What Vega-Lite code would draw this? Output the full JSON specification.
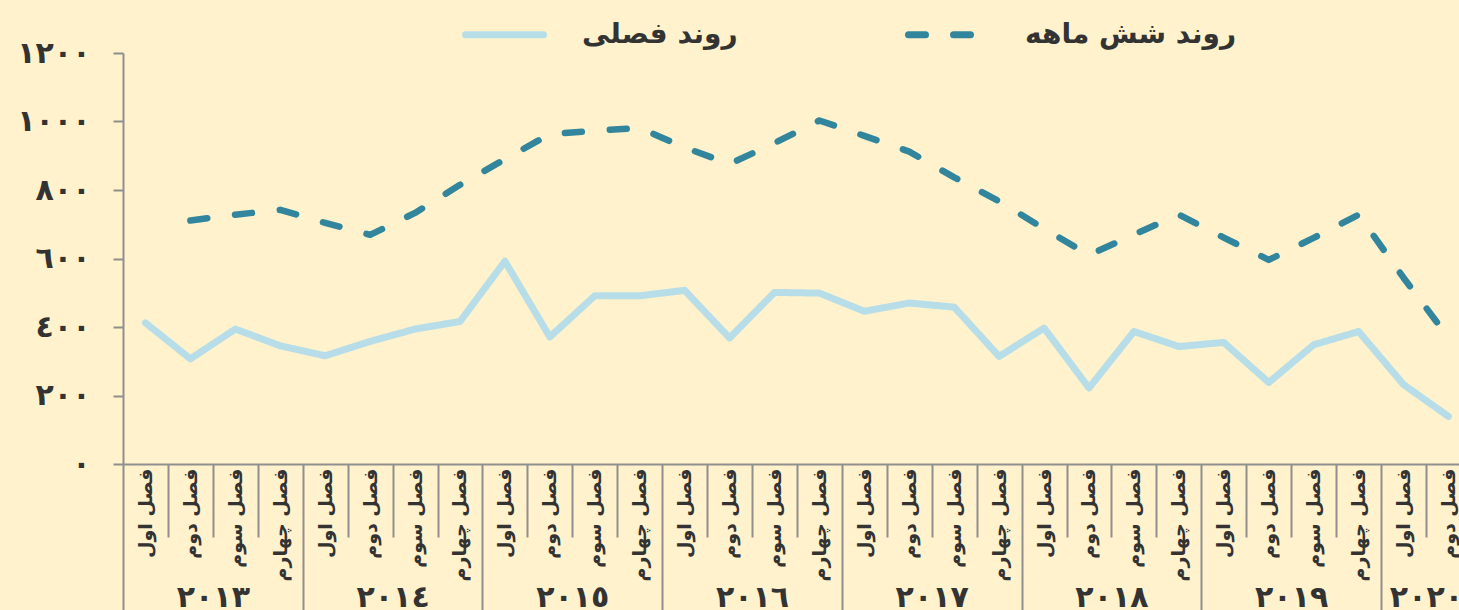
{
  "$schema": "https://vega.github.io/schema/vega-lite/v6.json",
  "width": 1336,
  "height": 411,
  "autosize": "none",
  "padding": {"left": 123, "top": 53, "right": 0, "bottom": 146},
  "background": "#FFF2CC",
  "config": {"view": {"stroke": null}, "font": "DejaVu Sans", "axis": {"grid": false}},
  "data": {
    "values": [
      {"q": 0, "series": "روند فصلی", "value": 412},
      {"q": 1, "series": "روند فصلی", "value": 307},
      {"q": 2, "series": "روند فصلی", "value": 394},
      {"q": 3, "series": "روند فصلی", "value": 345},
      {"q": 4, "series": "روند فصلی", "value": 316},
      {"q": 5, "series": "روند فصلی", "value": 358},
      {"q": 6, "series": "روند فصلی", "value": 394},
      {"q": 7, "series": "روند فصلی", "value": 416},
      {"q": 8, "series": "روند فصلی", "value": 592},
      {"q": 9, "series": "روند فصلی", "value": 371},
      {"q": 10, "series": "روند فصلی", "value": 491},
      {"q": 11, "series": "روند فصلی", "value": 491},
      {"q": 12, "series": "روند فصلی", "value": 507},
      {"q": 13, "series": "روند فصلی", "value": 368},
      {"q": 14, "series": "روند فصلی", "value": 501},
      {"q": 15, "series": "روند فصلی", "value": 499},
      {"q": 16, "series": "روند فصلی", "value": 446},
      {"q": 17, "series": "روند فصلی", "value": 470},
      {"q": 18, "series": "روند فصلی", "value": 458},
      {"q": 19, "series": "روند فصلی", "value": 314},
      {"q": 20, "series": "روند فصلی", "value": 397},
      {"q": 21, "series": "روند فصلی", "value": 222},
      {"q": 22, "series": "روند فصلی", "value": 387},
      {"q": 23, "series": "روند فصلی", "value": 343},
      {"q": 24, "series": "روند فصلی", "value": 355},
      {"q": 25, "series": "روند فصلی", "value": 238},
      {"q": 26, "series": "روند فصلی", "value": 348},
      {"q": 27, "series": "روند فصلی", "value": 387},
      {"q": 28, "series": "روند فصلی", "value": 232},
      {"q": 29, "series": "روند فصلی", "value": 139},
      {"q": 1, "series": "روند شش ماهه", "value": 711},
      {"q": 2, "series": "روند شش ماهه", "value": 728},
      {"q": 3, "series": "روند شش ماهه", "value": 742},
      {"q": 4, "series": "روند شش ماهه", "value": 704},
      {"q": 5, "series": "روند شش ماهه", "value": 669},
      {"q": 6, "series": "روند شش ماهه", "value": 733},
      {"q": 7, "series": "روند شش ماهه", "value": 815},
      {"q": 8, "series": "روند شش ماهه", "value": 890},
      {"q": 9, "series": "روند شش ماهه", "value": 963},
      {"q": 10, "series": "روند شش ماهه", "value": 973},
      {"q": 11, "series": "روند شش ماهه", "value": 981},
      {"q": 12, "series": "روند شش ماهه", "value": 924},
      {"q": 13, "series": "روند شش ماهه", "value": 876},
      {"q": 14, "series": "روند شش ماهه", "value": 937},
      {"q": 15, "series": "روند شش ماهه", "value": 1003},
      {"q": 16, "series": "روند شش ماهه", "value": 958},
      {"q": 17, "series": "روند شش ماهه", "value": 912},
      {"q": 18, "series": "روند شش ماهه", "value": 837},
      {"q": 19, "series": "روند شش ماهه", "value": 767},
      {"q": 20, "series": "روند شش ماهه", "value": 687},
      {"q": 21, "series": "روند شش ماهه", "value": 610},
      {"q": 22, "series": "روند شش ماهه", "value": 670},
      {"q": 23, "series": "روند شش ماهه", "value": 728},
      {"q": 24, "series": "روند شش ماهه", "value": 661},
      {"q": 25, "series": "روند شش ماهه", "value": 596},
      {"q": 26, "series": "روند شش ماهه", "value": 660},
      {"q": 27, "series": "روند شش ماهه", "value": 728},
      {"q": 28, "series": "روند شش ماهه", "value": 544},
      {"q": 29, "series": "روند شش ماهه", "value": 369}
    ]
  },
  "encoding": {
    "y": {
      "field": "value",
      "type": "quantitative",
      "scale": {"domain": [0, 1200], "nice": false, "zero": true},
      "axis": {
        "title": null,
        "values": [0, 200, 400, 600, 800, 1000, 1200],
        "labelExpr": "['٠','٢٠٠','٤٠٠','٦٠٠','٨٠٠','١٠٠٠','١٢٠٠'][round(datum.value/200)]",
        "tickSize": 10,
        "tickWidth": 2,
        "tickColor": "#8f8f8f",
        "domainColor": "#8f8f8f",
        "domainWidth": 2,
        "labelPadding": 23,
        "labelFontSize": 30,
        "labelFontWeight": "bold",
        "labelColor": "#333333",
        "labelFont": "DejaVu Sans"
      }
    },
    "color": {
      "field": "series",
      "type": "nominal",
      "scale": {"domain": ["روند فصلی", "روند شش ماهه"], "range": ["#B7DEE8", "#31859C"]},
      "legend": {
        "orient": "none",
        "legendX": 339,
        "legendY": -61,
        "direction": "horizontal",
        "title": null,
        "labelFont": "DejaVu Sans",
        "labelFontSize": 28,
        "labelFontWeight": "bold",
        "labelColor": "#333333",
        "symbolType": "stroke",
        "symbolSize": 6084,
        "symbolStrokeWidth": 7,
        "labelOffset": 35,
        "columnPadding": 156,
        "labelLimit": 400,
        "encode": {"symbols": {"update": {"strokeCap": {"value": "round"}}}}
      }
    },
    "strokeDash": {
      "field": "series",
      "type": "nominal",
      "scale": {"domain": ["روند فصلی", "روند شش ماهه"], "range": [[1, 0], [17, 28]]},
      "legend": null
    }
  },
  "layer": [
    {
      "transform": [{"filter": "datum.series === 'روند فصلی'"}],
      "mark": {"type": "line", "strokeWidth": 7, "strokeCap": "round", "strokeJoin": "round"},
      "encoding": {
        "x": {
          "field": "q",
          "type": "quantitative",
          "scale": {"domain": [-0.5, 29.235], "nice": false, "zero": false},
          "axis": {
            "orient": "bottom",
            "title": null,
            "values": [0,1,2,3,4,5,6,7,8,9,10,11,12,13,14,15,16,17,18,19,20,21,22,23,24,25,26,27,28,29],
            "labelExpr": "['فصل اول','فصل دوم','فصل سوم','فصل چهارم'][datum.value % 4]",
            "labelAngle": 270,
            "labelAlign": "right",
            "labelBaseline": "middle",
            "labelPadding": {"expr": "datum.value % 4 === 0 ? -146 : -69"},
            "labelOffset": 22.47,
            "labelFont": "DejaVu Sans",
            "labelFontSize": 19,
            "labelFontWeight": "bold",
            "labelColor": "#333333",
            "labelOverlap": false,
            "labelFlush": false,
            "labelBound": false,
            "tickSize": {"expr": "datum.value % 4 === 0 ? 150 : 73"},
            "tickOffset": -22.47,
            "tickColor": "#8f8f8f",
            "tickWidth": 2,
            "domainColor": "#8f8f8f",
            "domainWidth": 2
          }
        }
      }
    },
    {
      "transform": [{"filter": "datum.series === 'روند شش ماهه'"}],
      "mark": {"type": "line", "strokeWidth": 6.5, "strokeCap": "round", "strokeJoin": "round"},
      "encoding": {
        "x": {
          "field": "q",
          "type": "quantitative",
          "scale": {"domain": [-0.5, 29.235], "nice": false, "zero": false},
          "axis": {
            "orient": "bottom",
            "title": null,
            "values": [1.5, 5.5, 9.5, 13.5, 17.5, 21.5, 25.5, 28.5],
            "labelExpr": "['٢٠١٣','٢٠١٤','٢٠١٥','٢٠١٦','٢٠١٧','٢٠١٨','٢٠١٩','٢٠٢٠'][floor(datum.value/4)]",
            "ticks": false,
            "domain": false,
            "labelAngle": 0,
            "labelAlign": "center",
            "labelBaseline": "top",
            "labelPadding": 118,
            "labelFont": "DejaVu Sans",
            "labelFontSize": 30,
            "labelFontWeight": "bold",
            "labelColor": "#333333",
            "labelOverlap": false,
            "labelFlush": false,
            "labelBound": false
          }
        }
      }
    }
  ],
  "resolve": {"scale": {"x": "independent"}, "axis": {"x": "independent"}}
}
